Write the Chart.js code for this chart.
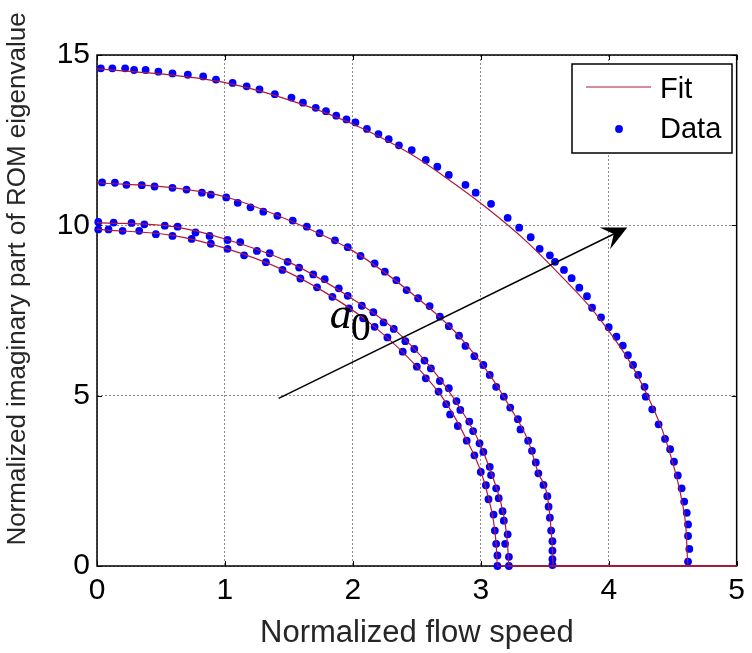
<!DOCTYPE html>
<html>
<head>
<meta charset="utf-8">
<script src="https://cdn.jsdelivr.net/npm/chart.js@4.4.1/dist/chart.umd.min.js"></script>
<style>
  html, body { margin: 0; padding: 0; background: #ffffff; }
  #wrap { width: 752px; height: 653px; }
</style>
</head>
<body>
<div id="wrap"><canvas id="chart" width="752" height="653"></canvas></div>
<script>
// Normalized flow speed / imaginary part of ROM eigenvalue, one branch per a0 value
const branch1Speed = [0.03,0.12,0.22,0.29,0.38,0.48,0.59,0.71,0.83,0.93,1.06,1.17,1.27,1.39,1.52,1.61,1.71,1.79,1.87,1.95,2.02,2.11,2.20,2.28,2.36,2.46,2.57,2.66,2.75,2.88,2.96,3.08,3.21,3.30,3.39,3.46,3.54,3.58,3.65,3.71,3.77,3.83,3.87,3.94,4.00,4.06,4.11,4.15,4.19,4.23,4.28,4.29,4.34,4.39,4.44,4.48,4.51,4.54,4.57,4.59,4.61,4.62,4.62,4.63,4.62];
const branch1Imag  = [14.61,14.61,14.61,14.56,14.56,14.51,14.46,14.42,14.37,14.28,14.18,14.08,13.99,13.85,13.75,13.60,13.45,13.35,13.22,13.11,13.02,12.83,12.68,12.53,12.35,12.21,11.92,11.72,11.48,11.19,10.96,10.63,10.22,9.93,9.65,9.31,9.12,8.93,8.69,8.45,8.17,7.92,7.58,7.30,7.01,6.73,6.47,6.19,5.90,5.61,5.26,4.97,4.60,4.16,3.73,3.43,3.06,2.66,2.28,1.89,1.56,1.22,0.88,0.50,0.13];

const branch2Speed = [0.04,0.14,0.23,0.35,0.45,0.59,0.70,0.82,0.89,1.01,1.10,1.20,1.30,1.41,1.53,1.64,1.74,1.86,1.96,2.06,2.17,2.25,2.34,2.42,2.51,2.60,2.68,2.75,2.83,2.88,2.95,3.02,3.07,3.12,3.18,3.23,3.29,3.31,3.37,3.40,3.43,3.45,3.49,3.52,3.53,3.54,3.55,3.56,3.56,3.56,3.56];
const branch2Imag  = [11.26,11.25,11.19,11.18,11.14,11.10,11.05,10.96,10.90,10.82,10.66,10.53,10.40,10.28,10.14,9.96,9.77,9.56,9.36,9.10,8.88,8.64,8.39,8.10,7.86,7.63,7.32,7.04,6.76,6.46,6.16,5.90,5.61,5.26,4.97,4.65,4.31,4.01,3.68,3.38,3.04,2.72,2.38,2.05,1.74,1.42,1.04,0.73,0.45,0.20,0.03];

const branch3Speed = [0.01,0.13,0.27,0.37,0.53,0.63,0.77,0.88,1.02,1.12,1.25,1.35,1.49,1.58,1.69,1.78,1.89,1.96,2.07,2.16,2.24,2.32,2.41,2.48,2.56,2.61,2.68,2.75,2.81,2.84,2.91,2.94,2.99,3.02,3.07,3.08,3.12,3.14,3.17,3.18,3.21,3.19,3.22,3.22];
const branch3Imag  = [10.10,10.08,10.07,10.03,9.99,9.96,9.79,9.69,9.57,9.51,9.25,9.18,8.93,8.76,8.56,8.42,8.15,7.93,7.64,7.45,7.15,6.96,6.60,6.37,6.03,5.80,5.43,5.22,4.84,4.58,4.24,3.96,3.60,3.35,2.91,2.67,2.28,1.99,1.61,1.33,0.93,0.65,0.27,0.00];

const branch4Speed = [0.01,0.09,0.20,0.33,0.46,0.59,0.74,0.89,1.02,1.15,1.32,1.45,1.59,1.72,1.84,1.97,2.08,2.17,2.27,2.39,2.50,2.57,2.67,2.73,2.76,2.82,2.89,2.95,3.00,3.04,3.06,3.10,3.11,3.12,3.13,3.13];
const branch4Imag  = [9.88,9.88,9.84,9.84,9.74,9.69,9.60,9.46,9.31,9.12,8.92,8.69,8.44,8.18,7.90,7.56,7.27,7.02,6.71,6.29,5.85,5.51,5.12,4.75,4.45,4.11,3.68,3.25,2.76,2.37,1.96,1.51,1.04,0.65,0.31,0.00];

// fitted curves (zero once the branch has coalesced)
const fit1Speed = [0,0.59,1.00,1.42,1.99,2.45,2.75,3.05,3.35,3.60,3.85,4.00,4.16,4.29,4.42,4.51,4.57,4.605,4.62,5];
const fit1Imag  = [14.59,14.41,14.19,13.78,12.99,12.10,11.34,10.50,9.55,8.62,7.62,6.90,6.02,5.10,3.98,2.90,1.95,1.05,0,0];
const fit2Speed = [0,0.60,1.00,1.50,2.00,2.50,2.83,3.07,3.23,3.37,3.45,3.52,3.55,3.56,3.565,5];
const fit2Imag  = [11.25,11.10,10.84,10.15,9.25,7.88,6.75,5.61,4.65,3.68,2.72,2.05,1.04,0.45,0,0];
const fit3Speed = [0,0.60,1.00,1.50,1.96,2.32,2.61,2.84,2.99,3.08,3.15,3.19,3.21,3.22,5];
const fit3Imag  = [10.08,9.96,9.60,8.92,7.93,6.96,5.82,4.62,3.62,2.75,1.95,1.25,0.60,0,0];
const fit4Speed = [0,0.60,1.00,1.45,1.84,2.17,2.50,2.73,2.89,3.00,3.06,3.10,3.12,3.13,5];
const fit4Imag  = [9.88,9.70,9.33,8.70,7.90,7.02,5.85,4.78,3.70,2.78,2.00,1.30,0.65,0,0];

// arrow marking increasing a0 (data units)
const arrowFrom = [1.42, 4.92];
const arrowTo   = [4.145, 9.94];
const arrowLabelAt = [1.82, 6.99];

const xTicks = [0, 1, 2, 3, 4, 5];
const yTicks = [0, 5, 10, 15];

const SANS = "'Liberation Sans',Arial,sans-serif";
const FIT_COLOR = '#b0183c';
const DOT_COLOR = '#0000ff';

const zip = (xs, ys) => xs.map((x, i) => ({ x: x, y: ys[i] }));

const fitSets = [[fit1Speed, fit1Imag], [fit2Speed, fit2Imag], [fit3Speed, fit3Imag], [fit4Speed, fit4Imag]]
  .map(([xs, ys]) => ({
    label: 'Fit',
    data: zip(xs, ys),
    showLine: true,
    borderColor: FIT_COLOR,
    borderWidth: 1.2,
    pointRadius: 0,
    cubicInterpolationMode: 'monotone',
    fill: false,
    clip: false
  }));

const dataSets = [[branch1Speed, branch1Imag], [branch2Speed, branch2Imag], [branch3Speed, branch3Imag], [branch4Speed, branch4Imag]]
  .map(([xs, ys]) => ({
    label: 'Data',
    data: zip(xs, ys),
    showLine: false,
    pointRadius: 3.9,
    pointBackgroundColor: DOT_COLOR,
    pointBorderWidth: 0,
    borderColor: DOT_COLOR,
    clip: false
  }));

// axes box with inward ticks, drawn under the data
const framePlugin = {
  id: 'frame',
  beforeDatasetsDraw(chart) {
    const { ctx, chartArea: a, scales } = chart;
    ctx.save();
    ctx.strokeStyle = '#000';
    ctx.lineWidth = 1.5;
    ctx.strokeRect(a.left, a.top, a.right - a.left, a.bottom - a.top);
    ctx.lineWidth = 1;
    const t = 5;
    ctx.beginPath();
    xTicks.forEach(v => {
      const px = Math.round(scales.x.getPixelForValue(v)) + 0.5;
      ctx.moveTo(px, a.bottom); ctx.lineTo(px, a.bottom - t);
      ctx.moveTo(px, a.top); ctx.lineTo(px, a.top + t);
    });
    yTicks.forEach(v => {
      const py = Math.round(scales.y.getPixelForValue(v)) + 0.5;
      ctx.moveTo(a.left, py); ctx.lineTo(a.left + t, py);
      ctx.moveTo(a.right, py); ctx.lineTo(a.right - t, py);
    });
    ctx.stroke();
    ctx.restore();
  }
};

// axis titles, arrow, a0 label and legend
const overlayPlugin = {
  id: 'overlay',
  afterDatasetsDraw(chart) {
    const { ctx, chartArea: a, scales } = chart;
    const X = v => scales.x.getPixelForValue(v);
    const Y = v => scales.y.getPixelForValue(v);
    ctx.save();

    // arrow
    const x0 = X(arrowFrom[0]), y0 = Y(arrowFrom[1]);
    const x1 = X(arrowTo[0]), y1 = Y(arrowTo[1]);
    const len = Math.hypot(x1 - x0, y1 - y0);
    const ux = (x1 - x0) / len, uy = (y1 - y0) / len;
    const nx = -uy, ny = ux;
    const L = 25, W = 12, N = 15;
    ctx.strokeStyle = '#000';
    ctx.lineWidth = 1.5;
    ctx.beginPath();
    ctx.moveTo(x0, y0);
    ctx.lineTo(x1 - ux * N, y1 - uy * N);
    ctx.stroke();
    ctx.fillStyle = '#000';
    ctx.beginPath();
    ctx.moveTo(x1, y1);
    ctx.lineTo(x1 - ux * L + nx * W, y1 - uy * L + ny * W);
    ctx.lineTo(x1 - ux * N, y1 - uy * N);
    ctx.lineTo(x1 - ux * L - nx * W, y1 - uy * L - ny * W);
    ctx.closePath();
    ctx.fill();

    // a0 label
    const lx = X(arrowLabelAt[0]), ly = Y(arrowLabelAt[1]);
    ctx.fillStyle = '#000';
    ctx.textBaseline = 'alphabetic';
    ctx.textAlign = 'left';
    ctx.font = "italic 44px 'Liberation Serif', 'DejaVu Serif', serif";
    ctx.fillText('a', lx, ly);
    const aw = ctx.measureText('a').width;
    ctx.font = "40px 'Liberation Serif', 'DejaVu Serif', serif";
    ctx.fillText('0', lx + aw - 1, ly + 12);

    // axis titles
    ctx.font = '31px ' + SANS;
    ctx.textAlign = 'center';
    ctx.textBaseline = 'middle';
    ctx.fillStyle = '#262626';
    ctx.fillText('Normalized flow speed', (a.left + a.right) / 2, 633);
    ctx.save();
    ctx.translate(18, 279);
    ctx.rotate(-Math.PI / 2);
    ctx.font = "26px 'Liberation Sans', Arial, sans-serif";
    ctx.fillText('Normalized imaginary part of ROM eigenvalue', 0, 0);
    ctx.restore();

    // legend
    const bx = 572, by = 64, bw = 160, bh = 89;
    ctx.fillStyle = '#fff';
    ctx.fillRect(bx, by, bw, bh);
    ctx.strokeStyle = '#000';
    ctx.lineWidth = 1.5;
    ctx.strokeRect(bx, by, bw, bh);
    ctx.strokeStyle = FIT_COLOR;
    ctx.lineWidth = 1.2;
    ctx.beginPath();
    ctx.moveTo(586, 87); ctx.lineTo(651, 87);
    ctx.stroke();
    ctx.fillStyle = DOT_COLOR;
    ctx.beginPath();
    ctx.arc(619, 129, 3.9, 0, Math.PI * 2);
    ctx.fill();
    ctx.fillStyle = '#000';
    ctx.font = '29px ' + SANS;
    ctx.textAlign = 'left';
    ctx.textBaseline = 'middle';
    ctx.fillText('Fit', 660, 90);
    ctx.fillText('Data', 660, 130);

    ctx.restore();
  }
};

new Chart(document.getElementById('chart'), {
  type: 'scatter',
  data: { datasets: [...fitSets, ...dataSets] },
  options: {
    responsive: false,
    animation: false,
    layout: { padding: { top: 55, right: 10, left: 0, bottom: 0 } },
    plugins: { legend: { display: false }, tooltip: { enabled: false } },
    scales: {
      x: {
        type: 'linear', min: 0, max: 5,
        afterBuildTicks: s => { s.ticks = xTicks.map(v => ({ value: v })); },
        afterFit: s => { s.height = 87; },
        ticks: { color: '#000', font: { size: 30, family: SANS }, padding: 7, maxRotation: 0 },
        grid: { color: '#8c8c8c', lineWidth: 1, drawTicks: false },
        border: { display: false, dash: [2, 2] }
      },
      y: {
        type: 'linear', min: 0, max: 15,
        afterBuildTicks: s => { s.ticks = yTicks.map(v => ({ value: v })); },
        afterFit: s => { s.width = 97; },
        ticks: { color: '#000', font: { size: 30, family: SANS }, padding: 7 },
        grid: { color: '#8c8c8c', lineWidth: 1, drawTicks: false },
        border: { display: false, dash: [2, 2] }
      }
    }
  },
  plugins: [framePlugin, overlayPlugin]
});
</script>
</body>
</html>
